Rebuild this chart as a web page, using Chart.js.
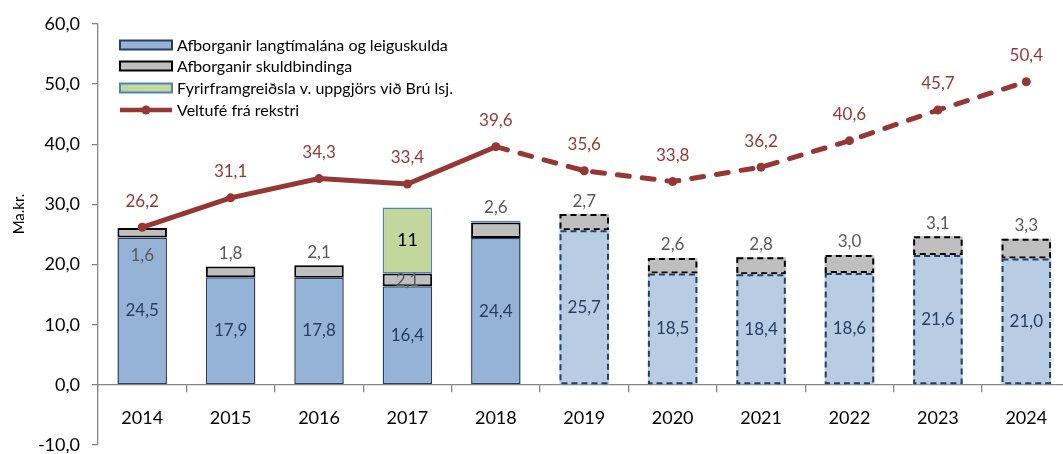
<!DOCTYPE html>
<html>
<head>
<meta charset="utf-8">
<script src="https://cdn.jsdelivr.net/npm/chart.js@4.4.1/dist/chart.umd.min.js"></script>
<style>
html,body{margin:0;padding:0;background:#fff;overflow:hidden;}
#wrap{width:1075px;height:454px;position:relative;}
</style>
</head>
<body>
<div id="wrap"><canvas id="c" width="1075" height="454"></canvas></div>
<script>
// ---- data ----
const years = ['2014','2015','2016','2017','2018','2019','2020','2021','2022','2023','2024'];
const afborganirLang = [24.5, 17.9, 17.8, 16.4, 24.4, 25.7, 18.5, 18.4, 18.6, 21.6, 21.0];
const afborganirSkuld = [1.6, 1.8, 2.1, 2.1, 2.6, 2.7, 2.6, 2.8, 3.0, 3.1, 3.3];
const fyrirfram = [null, null, null, 11, 0.3, null, null, null, null, null, null];
const veltufe = [26.2, 31.1, 34.3, 33.4, 39.6, 35.6, 33.8, 36.2, 40.6, 45.7, 50.4];
const yTicks = [-10, 0, 10, 20, 30, 40, 50, 60];
const forecastFrom = '2019';
const seriesNames = ['Afborganir langtímalána og leiguskulda','Afborganir skuldbindinga','Fyrirframgreiðsla v. uppgjörs við Brú lsj.','Veltufé frá rekstri'];
const yTitle = 'Ma.kr.';

const F = years.indexOf(forecastFrom);
const FONT = 'Lato, "Noto Sans", sans-serif';
const fmt = v => v.toFixed(1).replace('.', ',');

const BLUE = '#95b3d7', BLUE_F = '#b8cce4', NAVY = '#243f60';
const GRAY = '#bfbfbf', GREEN = '#c3d69b', LBLUE = '#4f81bd', RED = '#953735';

const dashPlugin = {
  id: 'dashBorders',
  afterDatasetDraw(chart, args) {
    const ds = chart.data.datasets[args.index];
    if (!ds.dashColor) return;
    const ctx = chart.ctx;
    ctx.save();
    ctx.strokeStyle = ds.dashColor;
    ctx.lineWidth = 2;
    ctx.setLineDash([6, 4]);
    args.meta.data.forEach((el, i) => {
      if (i < F || ds.data[i] == null) return;
      const p = el.getProps(['x','y','base','width'], true);
      const l = p.x - p.width / 2, t = Math.min(p.y, p.base), h = Math.abs(p.base - p.y);
      ctx.strokeRect(l + 1, t + 1, p.width - 2, h - 2);
    });
    ctx.restore();
  }
};

const labelPlugin = {
  id: 'valueLabels',
  afterDatasetsDraw(chart) {
    const ctx = chart.ctx;
    ctx.save();
    ctx.textAlign = 'center';
    ctx.textBaseline = 'middle';
    chart.data.datasets.forEach((ds, di) => {
      const meta = chart.getDatasetMeta(di);
      meta.data.forEach((el, i) => {
        const v = ds.data[i];
        if (v == null) return;
        const p = el.getProps(['x','y','base'], true);
        let y, txt;
        if (ds.lbl === 'mid') { y = (p.y + p.base) / 2; txt = fmt(v); ctx.fillStyle = '#243f60'; ctx.font = '17px ' + FONT; }
        else if (ds.lbl === 'gray') {
          txt = fmt(v); ctx.fillStyle = '#595959'; ctx.font = '17px ' + FONT;
          if (i === 0) y = p.base + 18;
          else if (i === 3) y = (p.y + p.base) / 2 + 1;
          else {
            let top = p.y;
            const g = chart.getDatasetMeta(2).data[i];
            if (chart.data.datasets[2].data[i] != null) top = Math.min(top, g.getProps(['y'], true).y);
            y = top - 13;
          }
        }
        else if (ds.lbl === 'green') { if (v < 1) return; y = (p.y + p.base) / 2; txt = String(v); ctx.fillStyle = '#000'; ctx.font = '18px ' + FONT; }
        else if (ds.lbl === 'line') { y = p.y - 26; txt = fmt(v); ctx.fillStyle = RED; ctx.font = '17px ' + FONT; }
        else return;
        ctx.fillText(txt, p.x, y);
      });
    });
    ctx.restore();
  },
  afterDraw(chart) {
    const ctx = chart.ctx;
    ctx.save();
    ctx.translate(19, 214);
    ctx.rotate(-Math.PI / 2);
    ctx.font = '15px ' + FONT;
    ctx.fillStyle = '#000';
    ctx.textAlign = 'center';
    ctx.textBaseline = 'middle';
    ctx.fillText(yTitle, 0, 0);
    ctx.restore();
    ctx.save();
    const x0 = 120, w = 52, rows = [45, 66, 88, 110];
    const sw = [[BLUE, NAVY], [GRAY, '#000'], [GREEN, LBLUE]];
    ctx.lineWidth = 2;
    sw.forEach((s, k) => {
      ctx.fillStyle = s[0]; ctx.strokeStyle = s[1];
      ctx.fillRect(x0, rows[k] - 4.5, w, 9);
      ctx.strokeRect(x0, rows[k] - 4.5, w, 9);
    });
    ctx.strokeStyle = RED; ctx.lineWidth = 4.5;
    ctx.beginPath(); ctx.moveTo(x0, rows[3]); ctx.lineTo(x0 + w, rows[3]); ctx.stroke();
    ctx.fillStyle = RED; ctx.beginPath(); ctx.arc(x0 + w / 2, rows[3], 4.5, 0, Math.PI * 2); ctx.fill();
    ctx.font = '16px ' + FONT; ctx.fillStyle = '#000'; ctx.textBaseline = 'middle'; ctx.textAlign = 'left';
    seriesNames.forEach((n, k) => ctx.fillText(n, x0 + w + 5, rows[k] + 1));
    ctx.restore();
  }
};

new Chart(document.getElementById('c'), {
  type: 'bar',
  data: {
    labels: years,
    datasets: [
      {
        label: seriesNames[0], data: afborganirLang, order: 1, lbl: 'mid', dashColor: NAVY,
        backgroundColor: c => c.dataIndex >= F ? BLUE_F : BLUE,
        borderColor: NAVY, borderWidth: c => c.dataIndex >= F ? 0 : 1.5, borderSkipped: false
      },
      {
        label: seriesNames[1], data: afborganirSkuld, order: 1, lbl: 'gray', dashColor: '#000',
        backgroundColor: GRAY,
        borderColor: '#000', borderWidth: c => c.dataIndex >= F ? 0 : 2, borderSkipped: false
      },
      {
        label: seriesNames[2], data: fyrirfram, order: 1, lbl: 'green',
        backgroundColor: GREEN, borderColor: LBLUE, borderWidth: 1.5, borderSkipped: false
      },
      {
        type: 'line', label: seriesNames[3], data: veltufe, order: 0, stack: 'line', lbl: 'line',
        borderColor: RED, backgroundColor: RED, borderWidth: 5, tension: 0,
        pointRadius: 4.5, pointBackgroundColor: RED, pointBorderWidth: 0, pointHoverRadius: 4.5,
        borderCapStyle: 'round',
        segment: { borderDash: c => c.p0DataIndex >= F - 1 ? [12, 13] : undefined }
      }
    ]
  },
  options: {
    responsive: false,
    animation: false,
    events: [],
    layout: { padding: { top: 24, bottom: 9, right: 2, left: 0 } },
    plugins: { legend: { display: false }, tooltip: { enabled: false } },
    datasets: { bar: { categoryPercentage: 1, barPercentage: 0.56 } },
    scales: {
      x: {
        stacked: true,
        position: { y: 0 },
        offset: true,
        afterFit: s => { s.height = 0; s.paddingLeft = 0; s.paddingRight = 0; },
        grid: { drawOnChartArea: false, offset: true, tickLength: 7, color: '#868686', lineWidth: 1.3 },
        border: { color: '#868686', width: 1.3 },
        ticks: { font: { family: FONT, size: 18 }, color: '#000', padding: 16, maxRotation: 0 }
      },
      y: {
        stacked: true,
        min: yTicks[0], max: yTicks[yTicks.length - 1],
        afterBuildTicks: s => { s.ticks = yTicks.map(v => ({ value: v })); },
        afterFit: s => { s.width = 98; s.paddingTop = 0; s.paddingBottom = 0; },
        grid: { drawOnChartArea: false, tickLength: 6, color: '#868686', lineWidth: 1.3 },
        border: { color: '#868686', width: 1.3 },
        ticks: { font: { family: FONT, size: 18, lineHeight: 1 }, color: '#000', padding: 12, callback: v => fmt(v) }
      }
    }
  },
  plugins: [dashPlugin, labelPlugin]
});
</script>
</body>
</html>
